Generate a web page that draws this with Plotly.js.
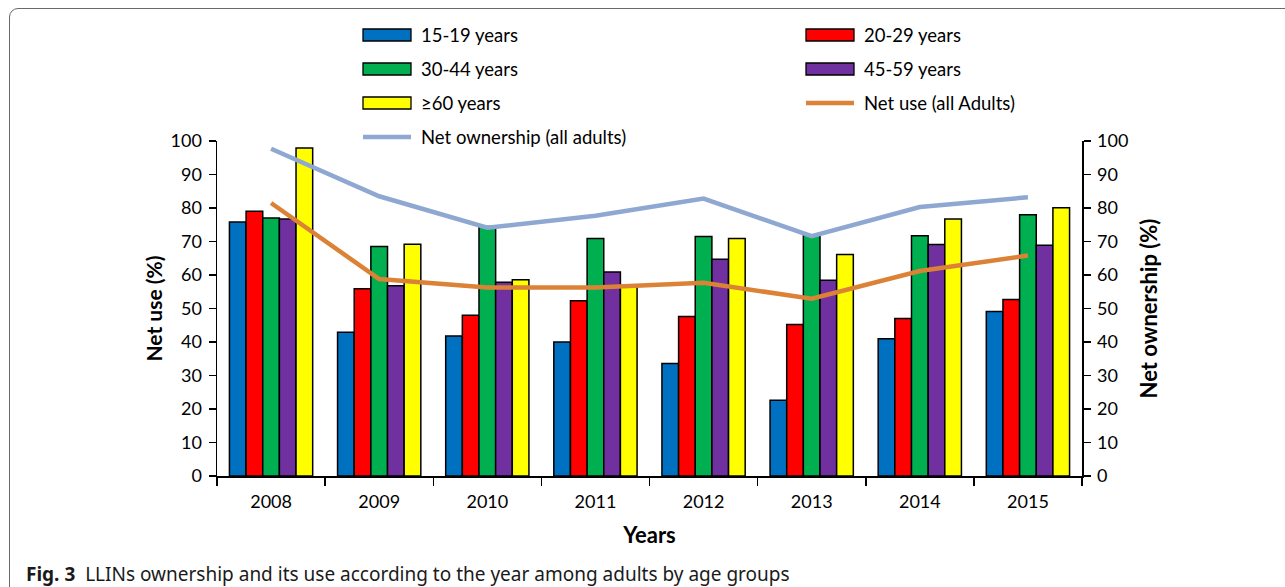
<!DOCTYPE html>
<html>
<head>
<meta charset="utf-8">
<script src="https://cdn.plot.ly/plotly-3.0.1.min.js"></script>
<style>
  html, body { margin: 0; padding: 0; background: #ffffff; }
  #wrap { position: relative; width: 1285px; height: 587px; overflow: hidden; }
  #frame { position: absolute; left: 9px; top: 8px; width: 1300px; height: 620px;
           border: 1px solid #6a6a6a; border-radius: 9px; box-sizing: border-box; }
  #chart { position: absolute; left: 0; top: 0; width: 1285px; height: 587px; }
</style>
</head>
<body>
<div id="wrap">
  <div id="frame"></div>
  <div id="chart"></div>
</div>
<script>
// ---- data ----
const years = ['2008', '2009', '2010', '2011', '2012', '2013', '2014', '2015'];
const seriesNames = ['15-19 years', '20-29 years', '30-44 years', '45-59 years', '≥60 years'];
const age15to19 = [75.8, 42.9, 41.8, 40.0, 33.6, 22.6, 41.0, 49.1];
const age20to29 = [79.0, 55.9, 48.0, 52.3, 47.6, 45.2, 47.0, 52.7];
const age30to44 = [77.0, 68.5, 74.5, 70.9, 71.5, 72.0, 71.7, 78.0];
const age45to59 = [76.7, 56.8, 57.8, 60.9, 64.7, 58.4, 69.1, 68.9];
const age60plus = [97.9, 69.2, 58.6, 56.5, 70.9, 66.1, 76.7, 80.1];
const netUseName = 'Net use (all Adults)';
const netUse = [81.5, 58.8, 56.3, 56.3, 57.7, 52.9, 61.2, 65.8];
const netOwnershipName = 'Net ownership (all adults)';
const netOwnership = [97.7, 83.5, 74.1, 77.7, 82.8, 71.6, 80.3, 83.2];
const yTickVals = [0, 10, 20, 30, 40, 50, 60, 70, 80, 90, 100];

// ---- styles ----
const barColors = ['#0070C0', '#FF0000', '#00B050', '#7030A0', '#FFFF00'];
const useColor = '#DC8237';
const ownColor = '#8EA8D2';
const FONT = 'Lato, "Open Sans", sans-serif';

const barSeries = [age15to19, age20to29, age30to44, age45to59, age60plus];
const traces = barSeries.map((vals, i) => ({
  type: 'bar', name: seriesNames[i], x: years, y: vals,
  marker: { color: barColors[i], line: { color: '#000000', width: 1.5 } },
  hoverinfo: 'x+y+name'
}));
traces.push({
  type: 'scatter', mode: 'lines', name: netUseName, x: years, y: netUse,
  line: { color: useColor, width: 4.5 }
});
traces.push({
  type: 'scatter', mode: 'lines', name: netOwnershipName, x: years, y: netOwnership,
  yaxis: 'y2', line: { color: ownColor, width: 4.5 }
});

// ---- plot geometry (pixels) ----
const W = 1285, H = 587;
const mL = 217, mR = 203, mT = 141, mB = 111;
const pw = W - mL - mR, ph = H - mT - mB;
const px = v => (v - mL) / pw;          // pixel x -> paper x
const py = v => (H - mB - v) / ph;      // pixel y -> paper y

// ---- custom legend (two columns, wide swatches) ----
const legendItems = [
  { name: seriesNames[0], kind: 'bar', color: barColors[0], col: 0, row: 0 },
  { name: seriesNames[1], kind: 'bar', color: barColors[1], col: 1, row: 0 },
  { name: seriesNames[2], kind: 'bar', color: barColors[2], col: 0, row: 1 },
  { name: seriesNames[3], kind: 'bar', color: barColors[3], col: 1, row: 1 },
  { name: seriesNames[4], kind: 'bar', color: barColors[4], col: 0, row: 2 },
  { name: netUseName, kind: 'line', color: useColor, col: 1, row: 2 },
  { name: netOwnershipName, kind: 'line', color: ownColor, col: 0, row: 3 }
];
const colX = [363, 806];
const rowY = [35, 69, 103, 137];
const shapes = [];
const annotations = [];
legendItems.forEach(it => {
  const x0 = colX[it.col], x1 = x0 + 48, yc = rowY[it.row];
  if (it.kind === 'bar') {
    shapes.push({ type: 'rect', xref: 'paper', yref: 'paper',
      x0: px(x0), x1: px(x1), y0: py(yc + 6), y1: py(yc - 6),
      fillcolor: it.color, line: { color: '#000000', width: 1.3 } });
  } else {
    shapes.push({ type: 'line', xref: 'paper', yref: 'paper',
      x0: px(x0), x1: px(x1), y0: py(yc), y1: py(yc),
      line: { color: it.color, width: 4.5 } });
  }
  annotations.push({ xref: 'paper', yref: 'paper', x: px(x0 + 56), y: py(yc),
    xanchor: 'left', yanchor: 'middle', showarrow: false, text: it.name,
    font: { family: FONT, size: 18.5, color: '#000000' } });
});

// caption
annotations.push({ xref: 'paper', yref: 'paper', x: px(24), y: py(574),
  xanchor: 'left', yanchor: 'middle', showarrow: false,
  text: '<b>Fig. 3</b>  LLINs ownership and its use according to the year among adults by age groups',
  font: { family: '"Noto Sans", "Open Sans", sans-serif', size: 19, color: '#1a1a1a' } });

const axisCommon = {
  range: [0, 100], tickvals: yTickVals, showgrid: false, zeroline: false,
  showline: true, linecolor: '#000000', linewidth: 1.5,
  ticks: 'outside', ticklen: 7, tickwidth: 1.5, tickcolor: '#000000',
  ticklabelstandoff: 3,
  tickfont: { family: FONT, size: 18, color: '#000000' }, fixedrange: true
};

const layout = {
  width: W, height: H,
  margin: { l: mL, r: mR, t: mT, b: mB, pad: 0 },
  paper_bgcolor: 'rgba(0,0,0,0)', plot_bgcolor: 'rgba(0,0,0,0)',
  showlegend: false,
  barmode: 'group', bargap: 0.23, bargroupgap: 0,
  xaxis: {
    type: 'category', tickson: 'boundaries', showgrid: false,
    showline: true, linecolor: '#000000', linewidth: 1.5,
    ticks: 'outside', ticklen: 8, tickwidth: 1.5, tickcolor: '#000000',
    ticklabelstandoff: 9,
    tickfont: { family: FONT, size: 18, color: '#000000' },
    title: { text: '<b>Years</b>', standoff: 16, font: { family: FONT, size: 22, color: '#000000' } },
    automargin: false, fixedrange: true
  },
  yaxis: Object.assign({}, axisCommon, {
    title: { text: '<b>Net use (%)</b>', standoff: 2, font: { family: FONT, size: 21, color: '#000000' } },
    automargin: false
  }),
  yaxis2: Object.assign({}, axisCommon, {
    overlaying: 'y', side: 'right',
    title: { text: '<b>Net ownership (%)</b>', standoff: 14, font: { family: FONT, size: 22, color: '#000000' } },
    automargin: false
  }),
  shapes: shapes,
  annotations: annotations
};

Plotly.newPlot('chart', traces, layout, { displayModeBar: false, staticPlot: true });
</script>
</body>
</html>
